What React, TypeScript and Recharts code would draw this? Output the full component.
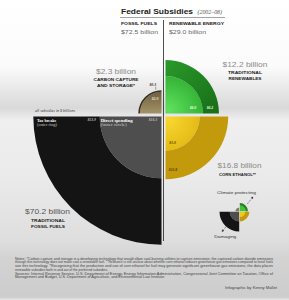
import React from 'react';
import { PieChart, Pie, Cell } from 'recharts';

// ---- data (billions of dollars, 2002-08) ----
const quadrantNames = ['Carbon capture and storage', 'Traditional renewables', 'Traditional fossil fuels', 'Corn ethanol'];
const innerValues = [2.0, 6.0, 16.3, 5.0];
const outerValues = [0.3, 6.2, 53.9, 11.8];
const totalLabels = ['$2.3 billion', '$12.2 billion', '$70.2 billion', '$16.8 billion'];
const sectorNames = ['FOSSIL FUELS', 'RENEWABLE ENERGY'];
const sectorTotals = ['$72.5 billion', '$29.0 billion'];

// ---- layout / style ----
const K = 15.3; // px per sqrt(billion)
const KS = 2.35; // legend mini-chart scale
const RAD = Math.PI / 180;
const angles = [
  [90, 180],
  [0, 90],
  [180, 270],
  [270, 360],
];
const centers = [
  [161.5, 113.5],
  [165.5, 113.5],
  [161.5, 116.5],
  [165.5, 116.5],
];
const miniCenters = [
  [239.2, 211.2],
  [239.8, 211.2],
  [239.2, 211.8],
  [239.8, 211.8],
];
const innerColors = ['url(#gCcs)', 'url(#gGreenIn)', '#4e4e4e', 'url(#gYellowIn)'];
const outerColors = ['#3a3020', 'url(#gGreenOut)', '#141414', '#c29a0c'];
const miniInner = ['#8b7a52', '#3cc43c', '#4e4e4e', '#f0c81a'];
const miniOuter = ['#3a3020', '#1f861f', '#141414', '#c29a0c'];
// label placement [angle, radius] for inner and outer value
const innerLabelPos = [[114, 16], [11.3, 28], [202, 9.2], [-75, 27.8]];
const outerLabelPos = [[107, 30], [7, 44.8], [182.9, 69.9], [-82, 54]];
const innerLabelColor = ['#e8e0c8', '#e8ffe8', '#bbbbbb', '#5a4a00'];
const outerLabelColor = ['#3a3020', '#e0ffe0', '#bbbbbb', '#4a3a00'];

const rad = (v: number, k: number) => k * Math.sqrt(v);

function makeLabel(angle: number, r: number, color: string, tick: boolean) {
  return (props: any) => {
    const { cx, cy, value } = props;
    const x = cx + r * Math.cos(-angle * RAD);
    const y = cy + r * Math.sin(-angle * RAD);
    return (
      <g>
        {tick ? <line x1={x + 3} y1={y + 1.8} x2={x + 3} y2={y + 5} stroke={color} strokeWidth={0.4} /> : null}
        <text x={x} y={y} fill={color} fontSize={3.8} fontStyle="italic" fontWeight="bold" fontFamily="Liberation Serif" textAnchor="middle" dominantBaseline="central">
          {'$' + Number(value).toFixed(1)}
        </text>
      </g>
    );
  };
}

type TP = {
  x: number; y: number; s: number; w?: number; a?: 'start' | 'middle' | 'end'; b?: boolean; i?: boolean;
  c?: string; f?: string; children: React.ReactNode;
};
const T = ({ x, y, s, w, a = 'start', b, i, c = '#222', f = 'Liberation Sans', children }: TP) => (
  <text x={x} y={y} fontSize={s} textAnchor={a} fontWeight={b ? 'bold' : 'normal'} fontStyle={i ? 'italic' : 'normal'} fill={c} fontFamily={f}
    {...(w ? { textLength: w, lengthAdjust: 'spacingAndGlyphs' } : {})}>
    {children}
  </text>
);

const notes = [
  'Notes: *Carbon capture and storage is a developing technology that would allow coal-burning utilities to capture emissions; the captured carbon dioxide emissions',
  'through this technology does not make coal a renewable fuel. **Research is still unclear about whether corn ethanol reduces greenhouse gas emissions compared to fossil fuels',
  'use this technology. *Recognizing that the production and use of corn ethanol for fuel may generate significant greenhouse gas emissions, the data places',
  'renewable subsidies both in and out of the preferred subsidies.',
];
const sources = [
  'Sources: Internal Revenue Service, U.S. Department of Energy, Energy Information Administration, Congressional Joint Committee on Taxation, Office of',
  'Management and Budget, U.S. Department of Agriculture, and Environmental Law Institute.',
];

export default function App() {
  const pies: React.ReactNode[] = [];
  quadrantNames.forEach((name, q) => {
    const [sa, ea] = angles[q];
    const [cx, cy] = centers[q];
    const rIn = rad(innerValues[q], K);
    const rOut = rad(innerValues[q] + outerValues[q], K);
    pies.push(
      <Pie key={'i' + q} data={[{ name, value: innerValues[q] }]} dataKey="value" cx={cx} cy={cy} innerRadius={0} outerRadius={rIn}
        startAngle={sa} endAngle={ea} stroke="none" isAnimationActive={false} labelLine={false}
        label={makeLabel(innerLabelPos[q][0], innerLabelPos[q][1], innerLabelColor[q], false)}>
        <Cell fill={innerColors[q]} />
      </Pie>,
      <Pie key={'o' + q} data={[{ name, value: outerValues[q] }]} dataKey="value" cx={cx} cy={cy} innerRadius={rIn} outerRadius={rOut}
        startAngle={sa} endAngle={ea} stroke="none" isAnimationActive={false} labelLine={false}
        label={makeLabel(outerLabelPos[q][0], outerLabelPos[q][1], outerLabelColor[q], q === 0)}>
        <Cell fill={outerColors[q]} />
      </Pie>
    );
    const [mx, my] = miniCenters[q];
    const mIn = rad(innerValues[q], KS);
    const mOut = rad(innerValues[q] + outerValues[q], KS);
    pies.push(
      <Pie key={'mi' + q} data={[{ name, value: innerValues[q] }]} dataKey="value" cx={mx} cy={my} innerRadius={0} outerRadius={mIn}
        startAngle={sa} endAngle={ea} stroke="none" isAnimationActive={false}>
        <Cell fill={miniInner[q]} />
      </Pie>,
      <Pie key={'mo' + q} data={[{ name, value: outerValues[q] }]} dataKey="value" cx={mx} cy={my} innerRadius={mIn} outerRadius={mOut}
        startAngle={sa} endAngle={ea} stroke="none" isAnimationActive={false}>
        <Cell fill={miniOuter[q]} />
      </Pie>
    );
  });

  return (
    <div style={{ position: 'absolute', left: 0, top: 0, width: 289, height: 300, overflow: 'hidden',
      background: 'linear-gradient(180deg, #ffffff 0%, #fbfbfb 22%, #d9d9d9 36%, #efefef 40%, #ebebeb 58%, #dedede 80%, #d3d3d3 86%, #cdcdcd 99%, #e6e6e6 100%)' }}>
      <svg width={0} height={0} style={{ position: 'absolute' }}>
        <defs>
          <radialGradient id="gGreenIn" cx="0.1" cy="0.9" r="1">
            <stop offset="0%" stopColor="#5ee05e" />
            <stop offset="100%" stopColor="#2fae2f" />
          </radialGradient>
          <linearGradient id="gGreenOut" x1="0" y1="0" x2="1" y2="1">
            <stop offset="0%" stopColor="#2a9a2a" />
            <stop offset="100%" stopColor="#176d17" />
          </linearGradient>
          <radialGradient id="gYellowIn" cx="0.1" cy="0.1" r="1">
            <stop offset="0%" stopColor="#f8d630" />
            <stop offset="100%" stopColor="#e2b812" />
          </radialGradient>
          <linearGradient id="gCcs" x1="0" y1="0" x2="0" y2="1">
            <stop offset="0%" stopColor="#6e6040" />
            <stop offset="100%" stopColor="#a39366" />
          </linearGradient>
        </defs>
      </svg>
      <div style={{ position: 'absolute', left: 0, top: 0 }}>
        <PieChart width={289} height={300} margin={{ top: 0, right: 0, bottom: 0, left: 0 }}>
          {pies}
        </PieChart>
      </div>
      <svg width={289} height={300} style={{ position: 'absolute', left: 0, top: 0, pointerEvents: 'none' }}>
        <defs>
          <marker id="ah" markerWidth="4" markerHeight="4" refX="2" refY="2" orient="auto">
            <path d="M0,0 L4,2 L0,4 z" fill="#333" />
          </marker>
        </defs>
        {/* header */}
        <T x={121} y={14} s={7.6} b w={72}>Federal Subsidies</T>
        <T x={197.5} y={14} s={5.2} i c="#555" w={24.5} f="Liberation Serif">(2002–08)</T>
        <line x1={120} y1={17.5} x2={225} y2={17.5} stroke="#666" strokeWidth={0.6} />
        <line x1={163.5} y1={20} x2={163.5} y2={241} stroke="#222" strokeWidth={0.8} />
        <T x={121} y={25} s={3.6} b w={36}>{sectorNames[0]}</T>
        <T x={121} y={33.5} s={5.5} c="#666" w={37}>{sectorTotals[0]}</T>
        <T x={169} y={25} s={3.6} b w={55}>{sectorNames[1]}</T>
        <T x={169} y={33.5} s={5.5} c="#666" w={37}>{sectorTotals[1]}</T>

        {/* CCS */}
        <T x={116} y={73.5} s={7} a="middle" c="#8a8a8a" w={40}>{totalLabels[0]}</T>
        <T x={116} y={81} s={3.4} a="middle" b w={45}>CARBON CAPTURE</T>
        <T x={116} y={87.3} s={3.4} a="middle" b w={38}>AND STORAGE*</T>

        {/* renewables */}
        <T x={245} y={67} s={7} a="middle" c="#8a8a8a" w={45}>{totalLabels[1]}</T>
        <T x={245} y={74} s={3.4} a="middle" b w={34}>TRADITIONAL</T>
        <T x={245} y={80} s={3.4} a="middle" b w={33}>RENEWABLES</T>

        <T x={35} y={112} s={3.2} i c="#333" w={40} f="Liberation Serif">all subsidies in $ billions</T>

        {/* black band labels */}
        <T x={37} y={121.5} s={4.2} b c="#ffffff" w={19} f="Liberation Serif">Tax breaks</T>
        <T x={37} y={126} s={3.4} c="#cccccc" w={20} f="Liberation Serif">(outer ring)</T>
        <T x={100.7} y={121.5} s={4.2} b c="#ffffff" w={32} f="Liberation Serif">Direct spending</T>
        <T x={100.7} y={126} s={3.4} c="#cccccc" w={26} f="Liberation Serif">(inner circle)</T>

        {/* fossil */}
        <T x={47.5} y={214} s={7.5} a="middle" c="#555" w={45}>{totalLabels[2]}</T>
        <T x={48} y={221.5} s={3.4} a="middle" b w={34}>TRADITIONAL</T>
        <T x={48} y={227.5} s={3.4} a="middle" b w={34}>FOSSIL FUELS</T>

        {/* ethanol */}
        <T x={239.5} y={167.5} s={7} a="middle" c="#8a8a8a" w={44}>{totalLabels[3]}</T>
        <T x={237.5} y={175.5} s={3.4} a="middle" b w={37}>CORN ETHANOL**</T>

        {/* legend */}
        <T x={236.5} y={194.3} s={4.2} a="middle" c="#333" w={39}>Climate protecting</T>
        <T x={225.3} y={237.5} s={4.2} a="middle" c="#333" w={22}>Damaging</T>
        <line x1={247.3} y1={204} x2={252.5} y2={197.5} stroke="#333" strokeWidth={0.6} strokeDasharray="1.2 0.8" markerEnd="url(#ah)" />
        <line x1={227} y1={225.5} x2={222.5} y2={231} stroke="#333" strokeWidth={0.6} strokeDasharray="1.2 0.8" markerEnd="url(#ah)" />

        {/* notes */}
        {notes.map((n, i) => (
          <T key={'n' + i} x={15} y={259.5 + i * 3.7} s={3.1} c="#444" w={i === 3 ? 93 : 258}>{n}</T>
        ))}
        {sources.map((n, i) => (
          <T key={'s' + i} x={15} y={274.5 + i * 3.7} s={3.1} c="#444" w={i === 1 ? 150 : 258}>{n}</T>
        ))}
        <T x={277} y={289} s={3.4} a="end" c="#444" w={52}>Infographic by Kenny Mallet</T>
      </svg>
    </div>
  );
}
